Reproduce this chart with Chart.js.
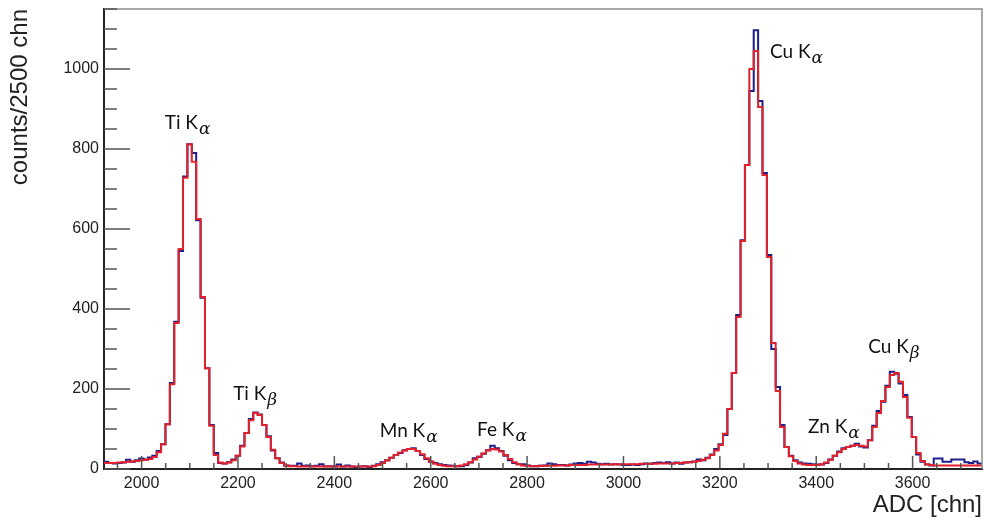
<!DOCTYPE html>
<html>
<head>
<meta charset="utf-8">
<script src="https://cdn.jsdelivr.net/npm/chart.js@4.4.1/dist/chart.umd.min.js"></script>
<style>
  html, body { margin: 0; padding: 0; background: #fff; }
</style>
</head>
<body>
<canvas id="myChart" width="984" height="524"></canvas>
<script>
// histogram range and binning
const adcMin = 1922;
const adcMax = 3744;
const nBins = 200;

// measured spectrum (blue), one value per bin
const counts = [
  18, 15, 14, 15, 16, 23, 18, 22, 26, 24,
  29, 33, 45, 62, 112, 215, 368, 545, 731, 812,
  790, 622, 428, 252, 110, 40, 15, 14, 17, 24,
  33, 58, 90, 125, 141, 136, 110, 82, 46, 27,
  16, 9, 8, 8, 14, 8, 9, 7, 8, 12,
  7, 7, 6, 11, 6, 9, 6, 5, 6, 7,
  5, 8, 12, 17, 22, 28, 35, 40, 47, 50,
  52, 45, 35, 25, 18, 15, 12, 10, 9, 8,
  7, 7, 10, 16, 27, 30, 38, 47, 58, 52,
  45, 33, 22, 15, 12, 12, 9, 7, 7, 8,
  9, 14, 12, 10, 10, 9, 11, 14, 15, 13,
  18, 16, 13, 12, 13, 11, 12, 11, 10, 10,
  11, 10, 12, 14, 13, 15, 16, 15, 17, 14,
  16, 13, 16, 17, 19, 24, 22, 28, 36, 50,
  62, 85, 150, 240, 385, 572, 760, 945, 1097, 920,
  740, 535, 300, 205, 110, 55, 33, 22, 16, 14,
  13, 12, 11, 11, 15, 24, 33, 44, 52, 55,
  58, 63, 56, 54, 72, 108, 145, 168, 208, 243,
  238, 214, 185, 130, 80, 36, 18, 11, 9, 26,
  26, 18, 18, 24, 24, 24, 17, 15, 19, 14
];

// fit function (red), evaluated per bin
const fitCounts = [
  15, 15, 15, 16, 17, 18, 19, 20, 22, 23,
  25, 30, 42, 62, 112, 212, 365, 550, 728, 812,
  768, 625, 430, 252, 108, 35, 16, 14, 16, 22,
  33, 56, 90, 122, 140, 135, 110, 80, 48, 27,
  15, 9, 7, 7, 6, 6, 6, 6, 6, 6,
  6, 6, 6, 6, 6, 6, 6, 6, 6, 6,
  6, 7, 10, 15, 21, 28, 35, 41, 46, 50,
  50, 45, 37, 27, 19, 13, 10, 8, 7, 7,
  7, 9, 12, 17, 24, 31, 39, 46, 50, 49,
  44, 35, 25, 17, 12, 9, 8, 7, 7, 8,
  8, 8, 8, 9, 9, 9, 10, 10, 10, 10,
  11, 11, 11, 11, 11, 11, 12, 12, 12, 12,
  12, 12, 13, 13, 13, 13, 14, 14, 14, 14,
  15, 15, 16, 17, 18, 20, 23, 27, 35, 46,
  60, 88, 150, 240, 380, 570, 760, 1000, 1045, 905,
  735, 530, 315, 195, 105, 55, 32, 20, 14, 11,
  10, 10, 10, 12, 16, 23, 33, 42, 50, 55,
  58, 60, 58, 56, 72, 105, 140, 170, 205, 235,
  240, 218, 180, 128, 80, 40, 20, 12, 10, 9,
  9, 9, 9, 9, 9, 9, 9, 9, 9, 9
];

const xTicks = [2000, 2200, 2400, 2600, 2800, 3000, 3200, 3400, 3600];
const yTicks = [0, 200, 400, 600, 800, 1000];

// peak labels, anchored in data units (left edge, baseline)
const peakNames = ['Ti K', 'Ti K', 'Mn K', 'Fe K', 'Zn K', 'Cu K', 'Cu K'];
const peakLines = ['α', 'β', 'α', 'α', 'α', 'α', 'β'];
const labelAdc = [2048, 2190, 2494, 2696, 3383, 3304, 3508];
const labelCounts = [850, 172, 79, 82, 91, 1027, 289];

const binWidth = (adcMax - adcMin) / nBins;
function toSteps(vals) {
  const pts = vals.map((v, i) => ({x: adcMin + i * binWidth, y: v}));
  pts.push({x: adcMax, y: vals[vals.length - 1]});
  return pts;
}

const font = '"Liberation Sans", Arial, Helvetica, sans-serif';

// ROOT style frame + ticks pointing inwards
const innerTicks = {
  id: 'innerTicks',
  afterDatasetsDraw(chart) {
    const {ctx, chartArea: a, scales: {x, y}} = chart;
    ctx.save();
    ctx.strokeStyle = '#8c8c8c';
    ctx.lineWidth = 1.5;
    ctx.beginPath();
    ctx.moveTo(a.left, a.top);
    ctx.lineTo(a.right, a.top);
    ctx.lineTo(a.right, a.bottom);
    ctx.stroke();

    ctx.strokeStyle = '#555';
    ctx.lineWidth = 1.5;
    ctx.beginPath();
    for (let v = 0; v <= y.max; v += 50) {
      const py = y.getPixelForValue(v);
      const len = v % 200 === 0 ? 26 : 13;
      ctx.moveTo(a.left, py);
      ctx.lineTo(a.left + len, py);
    }
    for (let v = 1950; v <= x.max; v += 50) {
      const px = x.getPixelForValue(v);
      const len = v % 200 === 0 ? 13 : 6;
      ctx.moveTo(px, a.bottom);
      ctx.lineTo(px, a.bottom - len);
    }
    ctx.stroke();
    ctx.restore();
  }
};

const peakText = {
  id: 'peakText',
  afterDraw(chart) {
    const {ctx, scales: {x, y}} = chart;
    ctx.save();
    ctx.fillStyle = '#111';
    ctx.textBaseline = 'alphabetic';
    ctx.textAlign = 'left';
    peakNames.forEach((name, i) => {
      const px = x.getPixelForValue(labelAdc[i]);
      const py = y.getPixelForValue(labelCounts[i]);
      ctx.font = '19px Lato, "Open Sans", sans-serif';
      ctx.fillText(name, px, py);
      const w = ctx.measureText(name).width;
      ctx.font = 'italic 17px "DejaVu Serif", serif';
      ctx.fillText(peakLines[i], px + w + 1, py + 5);
    });
    ctx.restore();
  }
};

const data = {
  datasets: [
    {
      label: 'fit',
      data: toSteps(fitCounts),
      borderColor: '#e3212b',
      borderWidth: 2,
      stepped: true,
      pointRadius: 0,
      fill: false
    },
    {
      label: 'data',
      data: toSteps(counts),
      borderColor: '#1c1f8a',
      borderWidth: 2,
      stepped: true,
      pointRadius: 0,
      fill: false
    }
  ]
};

const config = {
  type: 'line',
  data: data,
  options: {
    responsive: false,
    animation: false,
    devicePixelRatio: 1,
    layout: { padding: { top: 9, right: 2, left: 0, bottom: 0 } },
    plugins: {
      legend: { display: false },
      tooltip: { enabled: false }
    },
    scales: {
      x: {
        type: 'linear',
        min: adcMin,
        max: adcMax,
        afterBuildTicks: s => { s.ticks = xTicks.map(v => ({value: v})); },
        afterFit: s => { s.height = 55; s.paddingLeft = 0; s.paddingRight = 0; },
        grid: { display: false, drawTicks: false },
        border: { color: '#222', width: 2 },
        ticks: {
          padding: 5,
          maxRotation: 0,
          color: '#222',
          font: { family: font, size: 16 },
          callback: v => String(v)
        },
        title: {
          display: true,
          text: 'ADC [chn]',
          align: 'end',
          color: '#222',
          padding: { top: 0 },
          font: { family: font, size: 24 }
        }
      },
      y: {
        type: 'linear',
        min: 0,
        max: 1150,
        afterBuildTicks: s => { s.ticks = yTicks.map(v => ({value: v})); },
        afterFit: s => { s.width = 104; s.paddingTop = 0; s.paddingBottom = 0; },
        grid: { display: false, drawTicks: false },
        border: { color: '#222', width: 2 },
        ticks: {
          padding: 5,
          color: '#222',
          font: { family: font, size: 16 },
          callback: v => String(v)
        },
        title: {
          display: true,
          text: 'counts/2500 chn',
          align: 'end',
          color: '#222',
          padding: { top: 6 },
          font: { family: font, size: 24 }
        }
      }
    }
  },
  plugins: [innerTicks, peakText]
};

const myChart = new Chart(document.getElementById('myChart'), config);
</script>
</body>
</html>
